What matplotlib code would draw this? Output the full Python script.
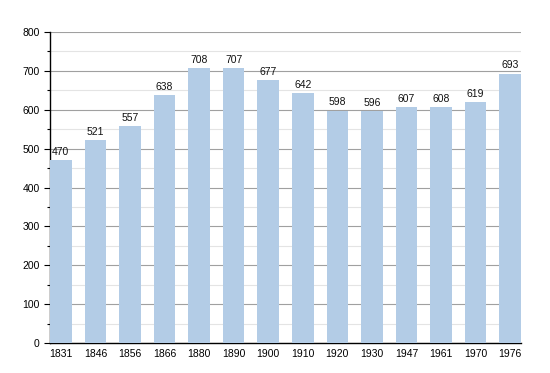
import matplotlib
matplotlib.use("Agg")
import matplotlib.pyplot as plt
from matplotlib.ticker import MultipleLocator

years = ["1831", "1846", "1856", "1866", "1880", "1890", "1900", "1910",
         "1920", "1930", "1947", "1961", "1970", "1976"]
population = [470, 521, 557, 638, 708, 707, 677, 642, 598, 596, 607, 608, 619, 693]

plt.rcParams['font.family'] = ['Liberation Sans', 'DejaVu Sans']

fig = plt.figure(figsize=(5.5, 3.73), dpi=100)
ax = fig.add_axes([50/550, 30/373, 471/550, 311/373])

x = list(range(len(years)))
bars = ax.bar(x, population, width=0.625, color='#b3cce6', zorder=3)
for xi, v in zip(x, population):
    ax.text(xi, v + 8, str(v), ha='center', va='bottom', fontsize=7.5, color='#111111', zorder=4)

ax.set_xlim(-0.3125, len(years) - 1 + 0.3125)
ax.set_ylim(0, 800)
ax.yaxis.set_major_locator(MultipleLocator(100))
ax.yaxis.set_minor_locator(MultipleLocator(50))
ax.grid(axis='y', which='major', color='#a0a0a0', linewidth=0.8, zorder=0)
ax.grid(axis='y', which='minor', color='#e4e4e4', linewidth=0.8, zorder=0)
ax.set_xticks(x)
ax.set_xticklabels(years)
ax.tick_params(axis='x', length=0, labelsize=7.5, pad=4)
ax.tick_params(axis='y', which='major', length=4, width=0.8, labelsize=7.5, direction='out')
ax.tick_params(axis='y', which='minor', length=2, width=0.8)
for s in ['top', 'right']:
    ax.spines[s].set_visible(False)
ax.spines['left'].set_linewidth(1.0)
ax.spines['bottom'].set_linewidth(1.0)

fig.savefig('out.png', dpi=100)
